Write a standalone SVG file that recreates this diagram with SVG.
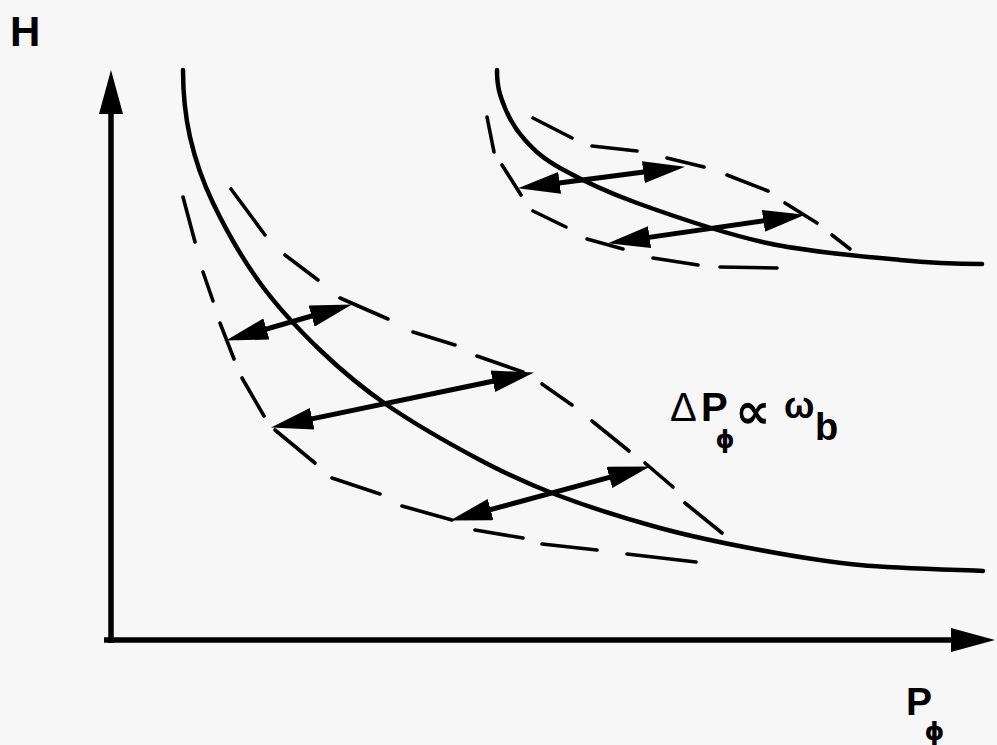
<svg xmlns="http://www.w3.org/2000/svg" width="997" height="745" viewBox="0 0 997 745">
<style>
.bg{fill:#f7f7f7}
.axis{stroke:#000;stroke-width:5.5;fill:none}
.curve{stroke:#000;stroke-width:4.5;fill:none;stroke-linecap:round}
.dash{stroke:#000;stroke-width:3.6;stroke-linecap:round;fill:none}
.arrow{stroke:#000;stroke-width:5;fill:none}
.lbl{font-family:"Liberation Sans",Arial,sans-serif;fill:#000}
.b{font-weight:bold}
.sym{font-family:"DejaVu Sans",sans-serif;fill:#000}
</style>
<defs>
<marker id="ah" viewBox="0 0 42 22" refX="20" refY="11" markerWidth="42" markerHeight="22" markerUnits="userSpaceOnUse" orient="auto-start-reverse">
<path d="M0,0 L42,11 L0,22 z" fill="#000"/>
</marker>
<marker id="axh" viewBox="0 0 44 24" refX="10" refY="12" markerWidth="44" markerHeight="24" markerUnits="userSpaceOnUse" orient="auto">
<path d="M0,0 L44,12 L0,24 z" fill="#000"/>
</marker>
</defs>
<rect class="bg" x="0" y="0" width="997" height="745"/>

<g id="axes">
<line class="axis" x1="111" y1="643" x2="111" y2="104" marker-end="url(#axh)"/>
<line class="axis" x1="104" y1="640" x2="961" y2="640" marker-end="url(#axh)"/>
</g>

<g id="curve-lower">
<path class="curve" d="M183,70 C183,92 185,114.8 190,137 C195,159.2 201.3,178.7 213,203 C224.7,227.3 242.2,258.5 260,283 C277.8,307.5 298.8,329.7 320,350 C341.2,370.3 360.3,386.7 387,405 C413.7,423.3 451.7,445 480,460 C508.3,475 527,483.7 557,495 C587,506.3 626.2,518.8 660,528 C693.8,537.2 726.7,543.8 760,550 C793.3,556.2 822.8,561.5 860,565 C897.2,568.5 962.5,570 983,571"/>
</g>

<g id="curve-upper">
<path class="curve" d="M497,70 C497,88 500.3,96.3 505,108 C509.7,119.7 515.8,130 525,140 C534.2,150 541.3,157.5 560,168 C578.7,178.5 602.5,190.5 637,203 C671.5,215.5 723.2,233.5 767,243 C810.8,252.5 864.2,256.5 900,260 C935.8,263.5 968,264 982,264"/>
</g>

<g id="band-lower">
<line class="dash" x1="231" y1="189" x2="265" y2="235"/>
<line class="dash" x1="285" y1="255" x2="318" y2="280"/>
<line class="dash" x1="340" y1="298" x2="388" y2="319"/>
<line class="dash" x1="413" y1="332" x2="455" y2="345"/>
<line class="dash" x1="477" y1="356" x2="523" y2="372"/>
<line class="dash" x1="542" y1="384" x2="572" y2="405"/>
<line class="dash" x1="592" y1="421" x2="629" y2="451"/>
<line class="dash" x1="645" y1="463" x2="673" y2="487"/>
<line class="dash" x1="685" y1="503" x2="722" y2="533"/>
<line class="dash" x1="183" y1="197" x2="195" y2="242"/>
<line class="dash" x1="203" y1="272" x2="213" y2="301"/>
<line class="dash" x1="220" y1="323" x2="234" y2="359"/>
<line class="dash" x1="242" y1="378" x2="264" y2="416"/>
<line class="dash" x1="275" y1="430" x2="315" y2="463"/>
<line class="dash" x1="332" y1="478" x2="380" y2="494"/>
<line class="dash" x1="402" y1="506" x2="452" y2="520"/>
<line class="dash" x1="475" y1="530" x2="523" y2="538"/>
<line class="dash" x1="542" y1="544" x2="597" y2="550"/>
<line class="dash" x1="627" y1="554" x2="696" y2="562"/>
</g>

<g id="band-upper">
<line class="dash" x1="487" y1="117" x2="494" y2="152"/>
<line class="dash" x1="502" y1="165" x2="521" y2="195"/>
<line class="dash" x1="533" y1="211" x2="566" y2="227"/>
<line class="dash" x1="587" y1="239" x2="623" y2="249"/>
<line class="dash" x1="653" y1="258" x2="698" y2="265"/>
<line class="dash" x1="720" y1="267" x2="777" y2="268"/>
<line class="dash" x1="533" y1="118" x2="572" y2="138"/>
<line class="dash" x1="592" y1="146" x2="637" y2="151"/>
<line class="dash" x1="667" y1="158" x2="704" y2="167"/>
<line class="dash" x1="727" y1="175" x2="768" y2="191"/>
<line class="dash" x1="785" y1="203" x2="817" y2="223"/>
<line class="dash" x1="832" y1="235" x2="850" y2="249"/>
</g>

<g id="connectors">
<line class="arrow" x1="247.2" y1="334.5" x2="330.8" y2="310.5" marker-start="url(#ah)" marker-end="url(#ah)"/>
<line class="arrow" x1="292.6" y1="422.9" x2="512.4" y2="377.1" marker-start="url(#ah)" marker-end="url(#ah)"/>
<line class="arrow" x1="471.3" y1="514.8" x2="628.7" y2="472.2" marker-start="url(#ah)" marker-end="url(#ah)"/>
<line class="arrow" x1="539.8" y1="185.4" x2="663.2" y2="169.6" marker-start="url(#ah)" marker-end="url(#ah)"/>
<line class="arrow" x1="629.8" y1="240.1" x2="783.2" y2="217.9" marker-start="url(#ah)" marker-end="url(#ah)"/>
</g>

<g id="label-H">
<text class="lbl b" x="10" y="46" font-size="42">H</text>
</g>

<g id="label-P">
<text class="lbl b" x="906" y="715" font-size="39">P</text>
<text class="sym b" x="934.5" y="740" font-size="25" text-anchor="middle">ϕ</text>
</g>

<g id="label-relation">
<text class="lbl" x="670" y="421" font-size="40">Δ</text>
<text class="lbl b" x="701" y="421" font-size="40">P</text>
<text class="sym b" x="725" y="448" font-size="24" text-anchor="middle">ϕ</text>
<text class="sym b" x="735" y="428" font-size="50">∝</text>
<text class="lbl b" x="784" y="418" font-size="36">ω</text>
<text class="lbl b" x="815" y="440" font-size="38">b</text>
</g>
</svg>
